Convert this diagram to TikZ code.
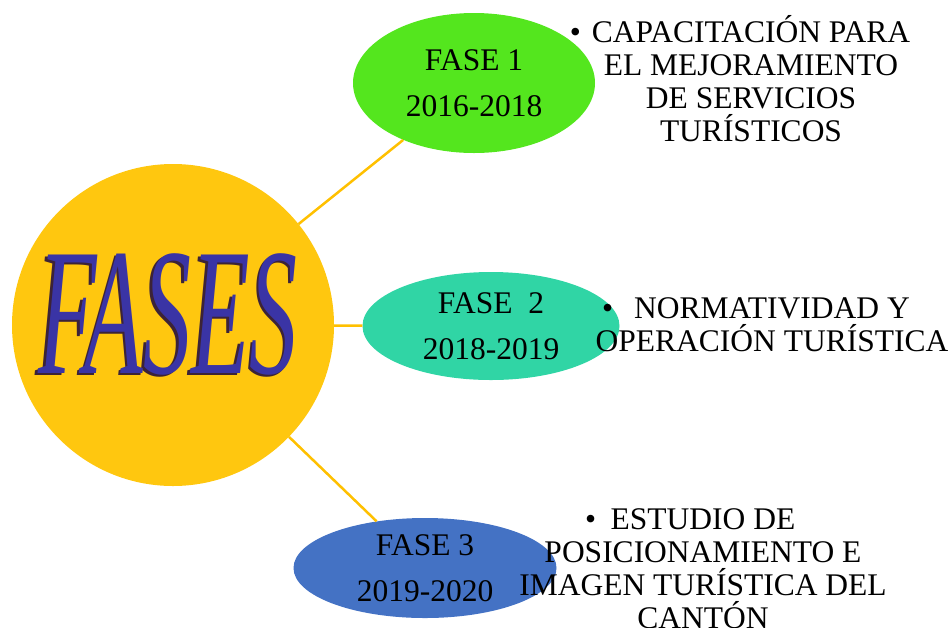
\documentclass[tikz,border=0pt]{standalone}
\usepackage{fontspec}
\usepackage{graphicx}
\setmainfont{Liberation Serif}
\usetikzlibrary{shapes.geometric}
\definecolor{fasegold}{RGB}{255,199,15}
\definecolor{linkgold}{RGB}{255,192,0}
\definecolor{fasegreen}{RGB}{84,230,30}
\definecolor{faseteal}{RGB}{48,213,165}
\definecolor{faseblue}{RGB}{68,114,196}
\definecolor{letterblue}{RGB}{58,52,165}
\definecolor{lettershade}{RGB}{60,35,55}

\begin{document}
\begin{tikzpicture}[x=1pt,y=-1pt,
    phase/.style={ellipse, inner sep=0pt, align=center,
      font=\fontsize{31.5}{46}\selectfont},
    goal/.style={inner sep=0pt, align=center,
      font=\fontsize{31.5}{33}\selectfont},
    bigword/.style={font=\fontsize{181}{181}\selectfont\itshape},
    link/.style={linkgold, line width=2.5pt}]
  \useasboundingbox (0,0) rectangle (952,627);

  % central circle
  \node[circle, fill=fasegold, minimum size=322pt, inner sep=0pt] (fases) at (173,325) {};
  \node[bigword, text=lettershade] (fasesshade) at (165.5,316) {\scalebox{0.53}[1]{FASES}};
  \node[bigword, text=letterblue] (fasestxt) at (168,314) {\scalebox{0.53}[1]{FASES}};

  % phases
  \node[phase, fill=fasegreen, minimum width=242pt, minimum height=140pt] (f1) at (474,83) {FASE 1\\2016-2018};
  \node[phase, fill=faseteal, minimum width=257pt, minimum height=108pt] (f2) at (491,326) {FASE\ \ 2\\2018-2019};
  \node[phase, fill=faseblue, minimum width=263pt, minimum height=100pt] (f3) at (425,568) {FASE 3\\2019-2020};

  \draw[link] (fases) -- (f1);
  \draw[link] (fases) -- (f2);
  \draw[link] (fases) -- (f3);

  % goals of each phase
  \node[goal] (g1) at (751,78.5) {\llap{\textbullet\hspace{11pt}}CAPACITACIÓN PARA\\EL MEJORAMIENTO\\DE SERVICIOS\\TURÍSTICOS};
  \node[goal] (g2) at (772,325) {\llap{\textbullet\hspace{21pt}}NORMATIVIDAD Y\\OPERACIÓN TURÍSTICA};
  \node[goal] (g3) at (703,569) {\llap{\textbullet\hspace{14.5pt}}ESTUDIO DE\\POSICIONAMIENTO E\\IMAGEN TURÍSTICA DEL\\CANTÓN};
\end{tikzpicture}
\end{document}
